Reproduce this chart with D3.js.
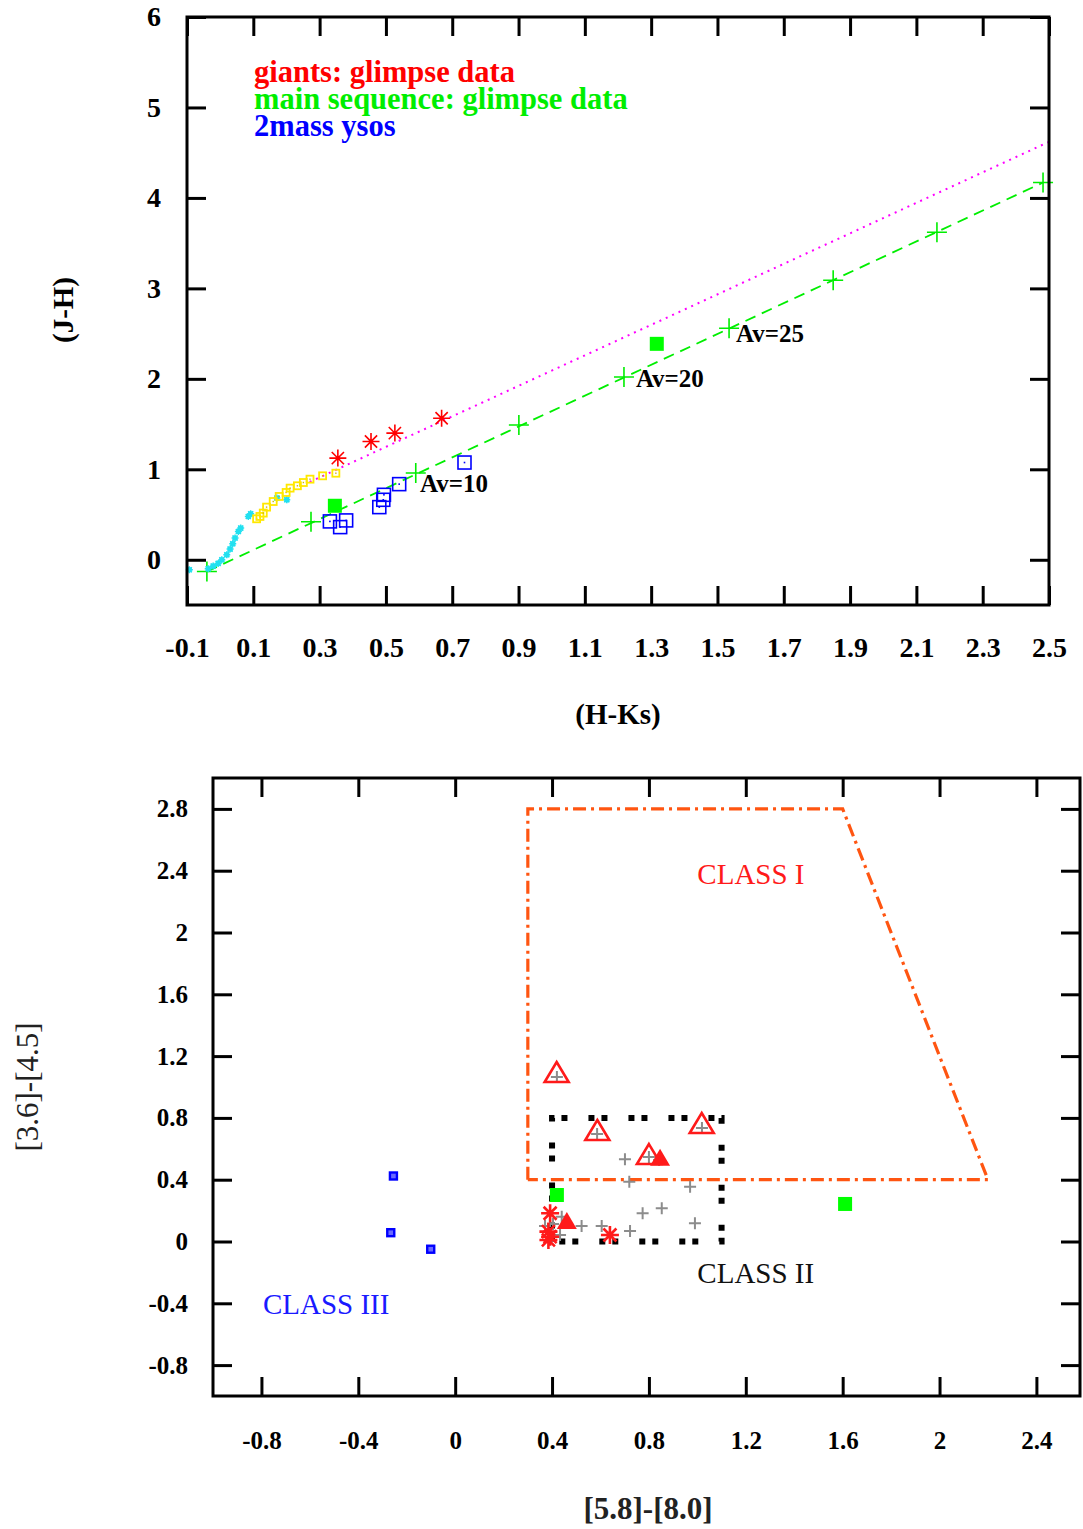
<!DOCTYPE html>
<html><head><meta charset="utf-8">
<script src="https://cdn.jsdelivr.net/npm/d3@7"></script>
<style>
html,body{margin:0;padding:0;background:#fff;}
svg{display:block;}
text{font-family:"Liberation Serif","Times New Roman",serif;}
</style></head>
<body>
<svg id="chart" width="1083" height="1529"></svg>
<script>
// ---------------- DATA: top panel (J-H vs H-Ks) ----------------
const topXTicks = [-0.1,0.1,0.3,0.5,0.7,0.9,1.1,1.3,1.5,1.7,1.9,2.1,2.3,2.5];
const topXTickLabels = ["-0.1","0.1","0.3","0.5","0.7","0.9","1.1","1.3","1.5","1.7","1.9","2.1","2.3","2.5"];
const topYTicks = [0,1,2,3,4,5,6];
const topYTickLabels = ["0","1","2","3","4","5","6"];

// reddening vectors
const giantVectorX = [0.27, 2.5];
const giantVectorY = [0.86, 4.62];
const dwarfVectorX = [-0.04, 2.482];
const dwarfVectorY = [-0.13, 4.17];
// Av markers on the dwarf vector (Av = 0,5,...,40)
const avMarkX = [-0.04, 0.274, 0.59, 0.901, 1.218, 1.535, 1.849, 2.162, 2.482];
const avMarkY = [-0.13, 0.42, 0.96, 1.49, 2.02, 2.56, 3.09, 3.62, 4.17];
const avLabels = ["Av=10","Av=20","Av=25"];
const avLabelX = [0.603, 1.254, 1.556];
const avLabelY = [0.75, 1.91, 2.41];

// intrinsic giant branch (yellow) and dwarf branch (cyan)
const giantBranchX = [0.110,0.120,0.130,0.140,0.160,0.178,0.199,0.211,0.233,0.251,0.271,0.309,0.349];
const giantBranchY = [0.453,0.479,0.516,0.582,0.644,0.700,0.744,0.792,0.818,0.854,0.891,0.928,0.957];
const dwarfBranchX = [-0.093,-0.036,-0.021,-0.006,0.005,0.020,0.030,0.038,0.045,0.055,0.062,0.085,0.092,0.171,0.201];
const dwarfBranchY = [-0.11,-0.10,-0.07,-0.04,0.0,0.055,0.118,0.177,0.24,0.313,0.35,0.479,0.508,0.682,0.663];

// giants (red), main sequence (green), 2mass ysos (blue)
const giantsX = [0.355, 0.455, 0.527, 0.668];
const giantsY = [1.124, 1.307, 1.40, 1.565];
const mainSeqX = [0.346, 1.317];
const mainSeqY = [0.597, 2.387];
const ysoX = [0.331, 0.380, 0.362, 0.480, 0.492, 0.494, 0.540, 0.737];
const ysoY = [0.424, 0.435, 0.361, 0.582, 0.663, 0.718, 0.836, 1.075];

const legendLabels = ["giants: glimpse data","main sequence: glimpse data","2mass ysos"];
const legendColors = ["#ff0000","#00ee00","#0000ff"];

// ---------------- DATA: bottom panel ([3.6]-[4.5] vs [5.8]-[8.0]) ----------------
const botXTicks = [-0.8,-0.4,0,0.4,0.8,1.2,1.6,2,2.4];
const botXTickLabels = ["-0.8","-0.4","0","0.4","0.8","1.2","1.6","2","2.4"];
const botYTicks = [-0.8,-0.4,0,0.4,0.8,1.2,1.6,2,2.4,2.8];
const botYTickLabels = ["-0.8","-0.4","0","0.4","0.8","1.2","1.6","2","2.4","2.8"];

const classIX = [0.3, 0.3, 1.6, 2.2, 0.3];
const classIY = [0.4, 2.8, 2.8, 0.4, 0.4];
const classIIX = [0.4, 0.4, 1.1, 1.1, 0.4];
const classIIY = [0.0, 0.8, 0.8, 0.0, 0.0];

const openTriX = [0.419, 0.587, 0.800, 1.018];
const openTriY = [1.084, 0.709, 0.553, 0.754];
const fillTriX = [0.846, 0.461];
const fillTriY = [0.534, 0.125];
const redStarX = [0.392, 0.385, 0.392, 0.385, 0.639];
const redStarY = [0.183, 0.064, 0.031, 0.010, 0.042];
const grayPlusX = [0.420,0.586,0.800,0.842,1.019,0.701,0.719,0.970,0.853,0.774,0.990,0.522,0.605,0.722,0.440,0.433,0.371,0.404];
const grayPlusY = [1.065,0.696,0.547,0.528,0.735,0.532,0.387,0.355,0.215,0.183,0.118,0.100,0.100,0.068,0.160,0.042,0.100,0.113];
const botGreenX = [0.420, 1.610];
const botGreenY = [0.301, 0.243];
const class3X = [-0.255, -0.266, -0.101];
const class3Y = [0.424, 0.057, -0.050];

const classLabels = ["CLASS I","CLASS II","CLASS III"];
const classLabelX = [1.0, 1.0, -0.794];
const classLabelY = [2.314, -0.269, -0.469];
const classLabelColors = ["#ff1a1a","#111111","#1a1aff"];

// ---------------- DRAWING ----------------
const svg = d3.select("#chart");
const zip = (a,b) => a.map((v,i)=>[v,b[i]]);

function plusPath(r){ return `M${-r},0H${r}M0,${-r}V${r}`; }
function starPath(r){ const d=r*0.72; return `M${-r},0H${r}M0,${-r}V${r}M${-d},${-d}L${d},${d}M${-d},${d}L${d},${-d}`; }
function triPath(w,h){ return `M0,${-h*0.6}L${w/2},${h*0.4}L${-w/2},${h*0.4}Z`; }

function frameAndAxes(g, x, y, xt, xtl, yt, ytl, fs, xPad, yPad){
  const [x0,x1] = x.range(), [y0,y1] = y.range();
  const tl = 19;
  const ax = g.append("g").attr("transform",`translate(0,${y0})`)
    .call(d3.axisBottom(x).tickValues(xt).tickSize(-tl).tickPadding(xPad).tickFormat((d,i)=>xtl[i]));
  const axT = g.append("g").attr("transform",`translate(0,${y1})`)
    .call(d3.axisTop(x).tickValues(xt).tickSize(-tl).tickFormat(""));
  const ay = g.append("g").attr("transform",`translate(${x0},0)`)
    .call(d3.axisLeft(y).tickValues(yt).tickSize(-tl).tickPadding(yPad).tickFormat((d,i)=>ytl[i]));
  const ayR = g.append("g").attr("transform",`translate(${x1},0)`)
    .call(d3.axisRight(y).tickValues(yt).tickSize(-tl).tickFormat(""));
  [ax,axT,ay,ayR].forEach(a=>{
    a.select(".domain").remove();
    a.selectAll(".tick line").attr("stroke","#000").attr("stroke-width",3);
    a.selectAll(".tick text").attr("fill","#000").style("font-size",fs+"px").style("font-weight","bold")
      .style("font-family",'"Liberation Serif","Times New Roman",serif');
  });
  g.append("rect").attr("x",x0).attr("y",y1).attr("width",x1-x0).attr("height",y0-y1)
    .attr("fill","none").attr("stroke","#000").attr("stroke-width",3);
}

// ---------- top panel ----------
const xT = d3.scaleLinear().domain([-0.1,2.5]).range([187,1049]);
const yT = d3.scaleLinear().domain([-0.5,6]).range([605,17]);
const gT = svg.append("g");
const line1 = d3.line().x(d=>xT(d[0])).y(d=>yT(d[1]));

gT.append("path").datum(zip(giantVectorX,giantVectorY)).attr("d",line1)
  .attr("stroke","#ff00ff").attr("stroke-width",2).attr("stroke-dasharray","2,5").attr("fill","none");
gT.append("path").datum(zip(dwarfVectorX,dwarfVectorY)).attr("d",line1)
  .attr("stroke","#00ee00").attr("stroke-width",1.8).attr("stroke-dasharray","11,7").attr("fill","none");
gT.selectAll(".av").data(zip(avMarkX,avMarkY)).join("path")
  .attr("transform",d=>`translate(${xT(d[0])},${yT(d[1])})`).attr("d",plusPath(10))
  .attr("stroke","#00ee00").attr("stroke-width",1.6).attr("fill","none");
gT.selectAll(".avl").data(avLabels).join("text")
  .attr("x",(d,i)=>xT(avLabelX[i])).attr("y",(d,i)=>yT(avLabelY[i]))
  .text(d=>d).style("font-size","25px").style("font-weight","bold").attr("fill","#000");

// dwarf branch cyan
gT.selectAll(".cy").data(zip(dwarfBranchX,dwarfBranchY)).join("g")
  .attr("transform",d=>`translate(${xT(d[0])},${yT(d[1])})`)
  .each(function(){
    const s=d3.select(this);
    s.append("rect").attr("x",-2.5).attr("y",-2.5).attr("width",5).attr("height",5).attr("fill","#22e0f0");
    s.append("path").attr("d",starPath(3.5)).attr("stroke","#22e0f0").attr("stroke-width",1.5);
  });
// giant branch yellow
gT.selectAll(".ye").data(zip(giantBranchX,giantBranchY)).join("g")
  .attr("transform",d=>`translate(${xT(d[0])},${yT(d[1])})`)
  .each(function(){
    const s=d3.select(this);
    s.append("rect").attr("x",-3.5).attr("y",-3.5).attr("width",7).attr("height",7)
      .attr("fill","none").attr("stroke","#ffe800").attr("stroke-width",1.8);
    s.append("rect").attr("x",-0.7).attr("y",-0.7).attr("width",1.4).attr("height",1.4).attr("fill","#ccbb00");
  });
// giants red stars
gT.selectAll(".gs").data(zip(giantsX,giantsY)).join("path")
  .attr("transform",d=>`translate(${xT(d[0])},${yT(d[1])})`).attr("d",starPath(8.5))
  .attr("stroke","#ff0000").attr("stroke-width",1.6).attr("fill","none");
// 2mass ysos
gT.selectAll(".ys").data(zip(ysoX,ysoY)).join("g")
  .attr("transform",d=>`translate(${xT(d[0])},${yT(d[1])})`)
  .each(function(){
    const s=d3.select(this);
    s.append("rect").attr("x",-6.5).attr("y",-6.5).attr("width",13).attr("height",13)
      .attr("fill","none").attr("stroke","#0000ff").attr("stroke-width",1.6);
    s.append("rect").attr("x",-0.8).attr("y",-0.8).attr("width",1.6).attr("height",1.6).attr("fill","#0000ff");
  });
// main sequence green squares
gT.selectAll(".ms").data(zip(mainSeqX,mainSeqY)).join("rect")
  .attr("x",d=>xT(d[0])-7).attr("y",d=>yT(d[1])-7).attr("width",14).attr("height",14).attr("fill","#00ff00");

// legend
gT.selectAll(".lg").data(legendLabels).join("text")
  .attr("x",254).attr("y",(d,i)=>82+i*27).text(d=>d)
  .attr("fill",(d,i)=>legendColors[i]).style("font-size","30.5px").style("font-weight","bold");

frameAndAxes(gT,xT,yT,topXTicks,topXTickLabels,topYTicks,topYTickLabels,28,32,26);
gT.append("text").attr("x",618).attr("y",724).attr("text-anchor","middle").text("(H-Ks)")
  .style("font-size","29px").style("font-weight","bold");
gT.append("text").attr("transform","translate(73,310) rotate(-90)").attr("text-anchor","middle").text("(J-H)")
  .style("font-size","29px").style("font-weight","bold");

// ---------- bottom panel ----------
const xB = d3.scaleLinear().domain([-1,2.58]).range([213,1080]);
const yB = d3.scaleLinear().domain([-1,3]).range([1396,778]);
const gB = svg.append("g");
const line2 = d3.line().x(d=>xB(d[0])).y(d=>yB(d[1]));

gB.append("path").datum(zip(classIX,classIY)).attr("d",line2)
  .attr("stroke","#ff5511").attr("stroke-width",3.2).attr("stroke-dasharray","13,5,3,5").attr("fill","none");
gB.append("path").datum(zip(classIIX,classIIY)).attr("d",line2)
  .attr("stroke","#000").attr("stroke-width",6).attr("stroke-dasharray","6,7,6,21").attr("fill","none");

// gray pluses
gB.selectAll(".gp").data(zip(grayPlusX,grayPlusY)).join("path")
  .attr("transform",d=>`translate(${xB(d[0])},${yB(d[1])})`).attr("d",plusPath(6))
  .attr("stroke","#8c8c8c").attr("stroke-width",2).attr("fill","none");
// open triangles
gB.selectAll(".ot").data(zip(openTriX,openTriY)).join("path")
  .attr("transform",d=>`translate(${xB(d[0])},${yB(d[1])})`).attr("d",triPath(24,20))
  .attr("stroke","#ff1a1a").attr("stroke-width",2.6).attr("fill","none");
gB.selectAll(".ft").data(zip(fillTriX,fillTriY)).join("path")
  .attr("transform",d=>`translate(${xB(d[0])},${yB(d[1])})`).attr("d",triPath(20,17))
  .attr("fill","#ff1a1a");
// red stars
gB.selectAll(".rs").data(zip(redStarX,redStarY)).join("path")
  .attr("transform",d=>`translate(${xB(d[0])},${yB(d[1])})`).attr("d",starPath(9))
  .attr("stroke","#ff1a1a").attr("stroke-width",2.6).attr("fill","none");
// green squares
gB.selectAll(".bg").data(zip(botGreenX,botGreenY)).join("rect")
  .attr("x",d=>xB(d[0])-7).attr("y",d=>yB(d[1])-7).attr("width",14).attr("height",14).attr("fill","#00ff00");
// class III blue squares
gB.selectAll(".c3").data(zip(class3X,class3Y)).join("g")
  .attr("transform",d=>`translate(${xB(d[0])},${yB(d[1])})`)
  .each(function(){
    const s=d3.select(this);
    s.append("rect").attr("x",-3.5).attr("y",-3.5).attr("width",7).attr("height",7)
      .attr("fill","#6a6aff").attr("stroke","#0000ff").attr("stroke-width",2.4);
  });
// class labels
gB.selectAll(".cl").data(classLabels).join("text")
  .attr("x",(d,i)=>xB(classLabelX[i])).attr("y",(d,i)=>yB(classLabelY[i]))
  .text(d=>d).attr("fill",(d,i)=>classLabelColors[i]).style("font-size","29px");

frameAndAxes(gB,xB,yB,botXTicks,botXTickLabels,botYTicks,botYTickLabels,25,35,25);
gB.append("text").attr("x",648).attr("y",1519).attr("text-anchor","middle").text("[5.8]-[8.0]")
  .style("font-size","31px").style("font-weight","bold").attr("fill","#222");
gB.append("text").attr("transform","translate(38,1087) rotate(-90)").attr("text-anchor","middle").text("[3.6]-[4.5]")
  .style("font-size","31px").attr("fill","#222");
</script>
</body></html>
